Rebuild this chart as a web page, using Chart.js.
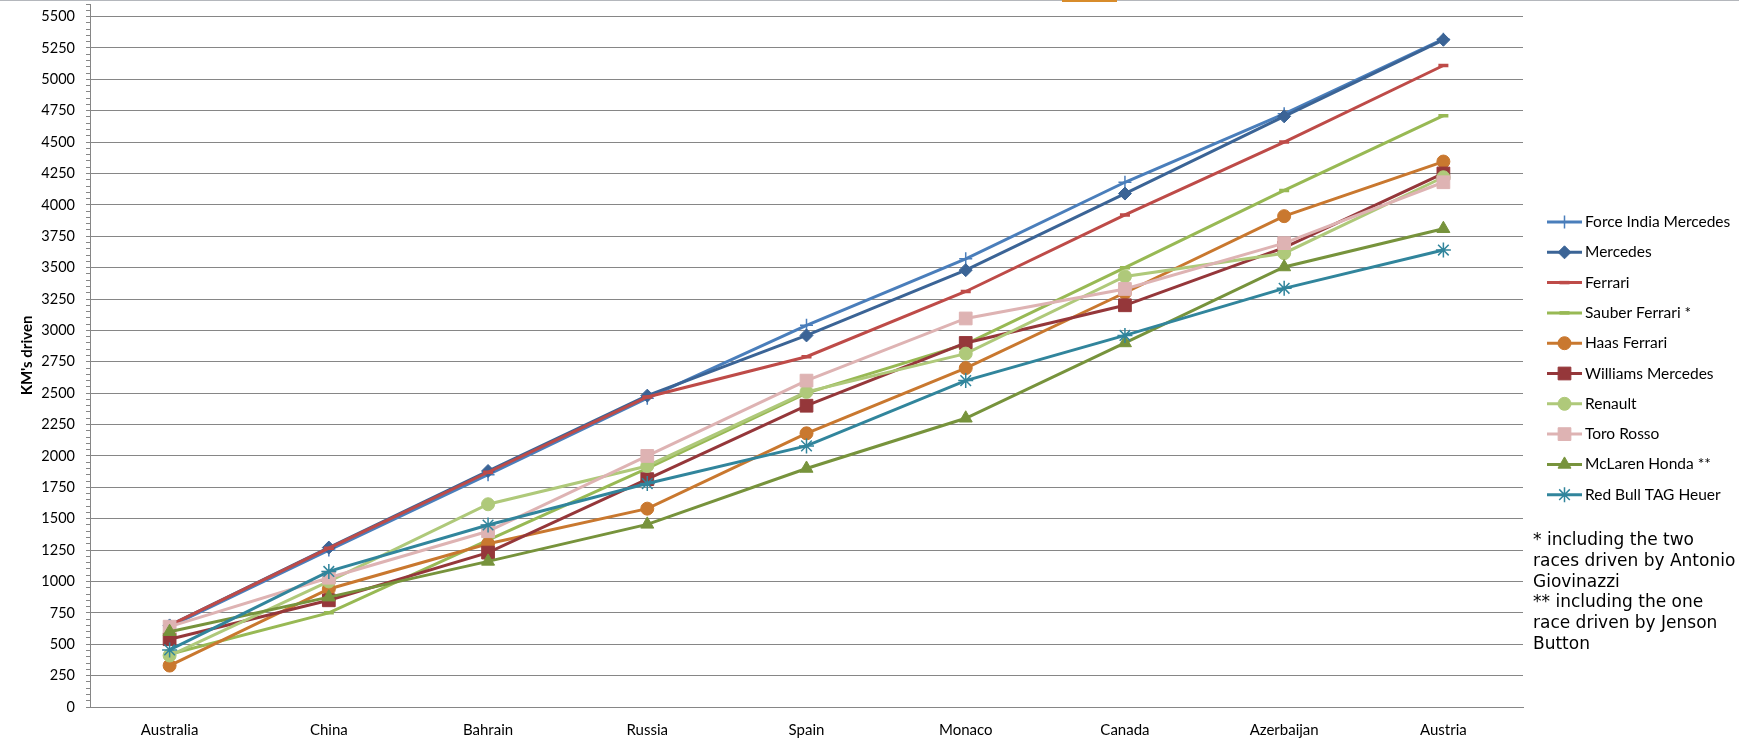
<!DOCTYPE html>
<html>
<head>
<meta charset="utf-8">
<script src="https://cdn.jsdelivr.net/npm/chart.js@4.4.1/dist/chart.umd.min.js"></script>
<style>
  body { margin: 0; background: #fff; }
  #wrap { position: relative; width: 1739px; height: 747px; }
  #topline { position: absolute; left: 0; top: 0; width: 1739px; height: 1px; background: #b4b7bc; }
  #mark { position: absolute; left: 1062px; top: 0; width: 55px; height: 2px; background: #d88c2b; }
  #note { position: absolute; left: 1533px; top: 529px; font: 17px "DejaVu Sans"; line-height: 20.8px; white-space: pre; color: #000; }
</style>
</head>
<body>
<div id="wrap">
  <canvas id="myChart"></canvas>
  <div id="topline"></div><div id="mark"></div>
  <div id="note">* including the two
races driven by Antonio
Giovinazzi
** including the one
race driven by Jenson
Button</div>
</div>
<script>
// races of the season so far
const races = ['Australia', 'China', 'Bahrain', 'Russia', 'Spain', 'Monaco', 'Canada', 'Azerbaijan', 'Austria'];

// cumulative km driven per team
const forceIndia = [640, 1250, 1850, 2460, 3040, 3570, 4180, 4725, 5320];
const mercedes   = [650, 1270, 1880, 2480, 2960, 3480, 4090, 4705, 5315];
const ferrari    = [650, 1265, 1870, 2470, 2790, 3310, 3920, 4500, 5110];
const sauber     = [420, 750, 1330, 1900, 2500, 2890, 3500, 4115, 4710];
const haas       = [330, 940, 1300, 1580, 2180, 2700, 3300, 3910, 4345];
const williams   = [540, 850, 1230, 1815, 2400, 2900, 3200, 3660, 4250];
const renault    = [410, 1000, 1615, 1920, 2510, 2815, 3430, 3615, 4220];
const toroRosso  = [640, 1030, 1400, 2000, 2600, 3095, 3330, 3695, 4180];
const mclaren    = [600, 875, 1160, 1455, 1900, 2300, 2900, 3505, 3810];
const redBull    = [455, 1080, 1450, 1780, 2080, 2600, 2960, 3335, 3640];

const teams = ['Force India Mercedes', 'Mercedes', 'Ferrari', 'Sauber Ferrari *', 'Haas Ferrari',
  'Williams Mercedes', 'Renault', 'Toro Rosso', 'McLaren Honda **', 'Red Bull TAG Heuer'];
const series = [forceIndia, mercedes, ferrari, sauber, haas, williams, renault, toroRosso, mclaren, redBull];

// look of each line: colour, marker, marker size, marker stroke
const looks = [
  ['#4a7ebb', 'cross', 6.5, 1.5],
  ['#3b6496', 'rectRot', 6.5, 1],
  ['#be4b48', 'line', 5, 3.5],
  ['#98b954', 'line', 5, 3.5],
  ['#c9782f', 'circle', 6.5, 1],
  ['#95373a', 'rect', 9, 1],
  ['#afc97a', 'circle', 6.5, 1],
  ['#deb3b3', 'rect', 9, 1],
  ['#77933c', 'triangle', 7.5, 1],
  ['#31859c', 'star', 7.5, 1.5]
];

const grey = '#868686';

let datasets = series.map((vals, i) => ({
  label: teams[i],
  data: vals,
  borderColor: looks[i][0],
  backgroundColor: looks[i][0],
  borderWidth: 3,
  pointStyle: looks[i][1],
  pointRadius: looks[i][2],
  pointBorderWidth: looks[i][3],
  pointBackgroundColor: looks[i][0],
  pointBorderColor: looks[i][0],
  tension: 0,
  order: -i // later series on top, like the original
}));

// legend at the right: line + marker + name
const sideLegend = {
  id: 'sideLegend',
  afterDraw(chart) {
    const ctx = chart.ctx;
    const x0 = chart.chartArea.right + 24;
    ctx.save();
    chart.data.datasets.forEach((ds, i) => {
      const y = 222 + i * 30.3;
      ctx.strokeStyle = ds.borderColor;
      ctx.lineWidth = ds.borderWidth;
      ctx.beginPath();
      ctx.moveTo(x0, y);
      ctx.lineTo(x0 + 35, y);
      ctx.stroke();
      ctx.fillStyle = ds.pointBackgroundColor;
      ctx.strokeStyle = ds.pointBorderColor;
      ctx.lineWidth = ds.pointBorderWidth;
      Chart.helpers.drawPoint(ctx, {
        pointStyle: ds.pointStyle, radius: ds.pointRadius, rotation: 0, borderWidth: ds.pointBorderWidth
      }, x0 + 17.5, y);
      ctx.fillStyle = '#000';
      ctx.font = '15.5px Lato';
      ctx.textAlign = 'left';
      ctx.textBaseline = 'middle';
      ctx.fillText(ds.label, x0 + 38, y);
    });
    ctx.restore();
  }
};

let myChart = document.getElementById('myChart').getContext('2d');

let chart = new Chart(myChart, {
  type: 'line',
  data: { labels: races, datasets: datasets },
  plugins: [sideLegend],
  options: {
    responsive: true,
    maintainAspectRatio: false,
    animation: false,
    layout: { autoPadding: false, padding: { top: 4, right: 216, left: 0, bottom: 0 } },
    plugins: {
      legend: { display: false },
      tooltip: { enabled: false }
    },
    scales: {
      x: {
        offset: true,
        grid: { display: false, drawTicks: false },
        border: { display: true, color: grey },
        ticks: { color: '#000', font: { family: 'Lato', size: 15 }, padding: 14, maxRotation: 0, autoSkip: false },
        afterFit: s => { s.height = 40; s.paddingLeft = 0; s.paddingRight = 0; }
      },
      y: {
        min: 0,
        max: 5600,
        ticks: {
          stepSize: 50,
          autoSkip: false,
          padding: 11,
          color: '#000',
          font: { family: 'Lato', size: 14.5 },
          callback: v => (v % 250 === 0 ? v : '')
        },
        grid: {
          color: c => (c.tick && c.tick.value % 250 === 0 ? grey : 'rgba(0,0,0,0)'),
          tickColor: grey,
          tickLength: 4,
          lineWidth: 1
        },
        border: { color: grey },
        title: {
          display: true,
          text: "KM's driven",
          color: '#000',
          font: { family: 'Lato', size: 15, weight: 'bold' },
          padding: { top: 18, bottom: 0 }
        },
        afterFit: s => { s.width = 90; s.paddingTop = 0; s.paddingBottom = 0; }
      }
    }
  }
});
</script>
</body>
</html>
